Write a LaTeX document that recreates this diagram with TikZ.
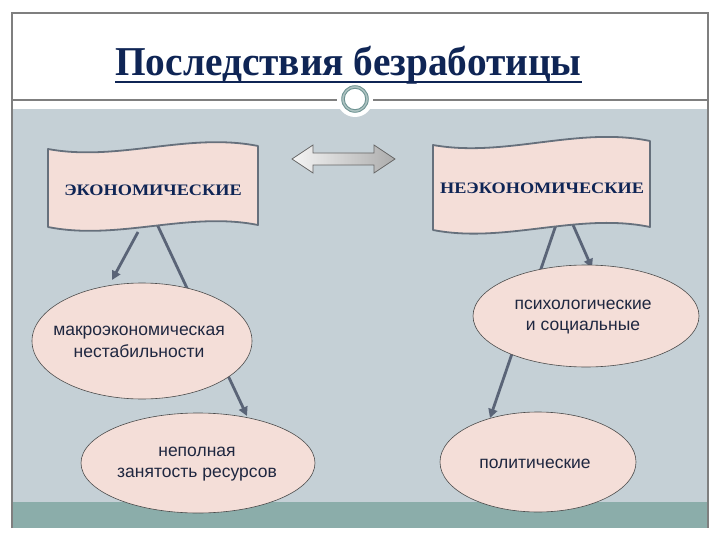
\documentclass[tikz,border=0pt]{standalone}
\usepackage{fontspec}
\setmainfont{Liberation Serif}
\newfontfamily\sansru{Liberation Sans}
\newfontfamily\bannerfont[FakeStretch=1.14]{Liberation Serif}
\newfontfamily\titlefont[FakeStretch=0.96]{Liberation Serif}
\usetikzlibrary{arrows.meta,shapes.geometric}
\definecolor{bggray}{HTML}{C5D0D6}
\definecolor{bandteal}{HTML}{8BADAA}
\definecolor{framegray}{HTML}{7F7F7F}
\definecolor{ringc}{HTML}{6E9392}
\definecolor{navy}{HTML}{0F2555}
\definecolor{pinkfill}{HTML}{F4DED8}
\definecolor{arrowc}{HTML}{5A6477}
\definecolor{bannerline}{HTML}{66707C}
\definecolor{elltext}{HTML}{1F2740}
\tikzset{
  bannerbox/.style={fill=pinkfill, draw=bannerline, line width=1.8pt, line join=round},
  bannertext/.style={text=navy, font=\bannerfont\bfseries\fontsize{16}{19}\selectfont},
  ellbox/.style={ellipse, fill=pinkfill, draw=black!70, line width=0.6pt, inner sep=0pt},
  elllabel/.style={align=center, text=elltext, font=\sansru\fontsize{17.5}{21.5}\selectfont, inner sep=0pt},
  conn/.style={arrowc, line width=2.8pt, -{Triangle[length=9pt,width=9pt]}},
  dblarrow/.style={draw=black!60, line width=0.8pt, left color=white!92!gray, right color=gray!65}
}
\begin{document}
\begin{tikzpicture}[x=1pt,y=-1pt]
\useasboundingbox (0,0) rectangle (720,540);
\fill[white] (0,0) rectangle (720,540);
\fill[bggray] (12,109) rectangle (708,502);
\fill[bandteal] (12,502) rectangle (708,528);
\draw[framegray, line width=1.2pt] (12,528) -- (12,13) -- (708,13) -- (708,528);
\draw[framegray, line width=1.2pt] (12,100) -- (708,100);
% ornament
\fill[white] (355,99) circle (18);
\draw[ringc!55, line width=2.6pt] (355,99) circle (12);
\draw[ringc, line width=0.9pt] (355,99) circle (13.3);
\draw[ringc, line width=0.9pt] (355,99) circle (10.7);
% title
\node[anchor=base, inner xsep=0pt, text=navy, font=\titlefont\bfseries\fontsize{41}{44}\selectfont] (title) at (348.5,76) {Последствия безработицы};
\draw[navy, line width=2.4pt] ([yshift=-6pt]title.base west) -- ([yshift=-6pt]title.base east);
% arrows (behind shapes)
\coordinate (a1s) at (138,232);
\coordinate (a1e) at (112,280);
\coordinate (a2s) at (156,222);
\coordinate (a2e) at (247,416);
\coordinate (a3s) at (557,222);
\coordinate (a3e) at (490,418);
\coordinate (a4s) at (570,218);
\coordinate (a4e) at (592,268);
\draw[conn] (a1s) -- (a1e);
\draw[conn] (a2s) -- (a2e);
\draw[conn] (a3s) -- (a3e);
\draw[conn] (a4s) -- (a4e);
% banners
\draw[bannerbox] (48,149) .. controls (118,162) and (188,132) .. (258,146) -- (258,225)
   .. controls (188,211) and (118,241) .. (48,227) -- cycle;
\draw[bannerbox] (433,145) .. controls (505,158) and (578,126) .. (650,141) -- (650,227)
   .. controls (578,212) and (505,244) .. (433,230) -- cycle;
\node[bannertext] (econ) at (153,190) {ЭКОНОМИЧЕСКИЕ};
\node[bannertext] (nonecon) at (542,188) {НЕЭКОНОМИЧЕСКИЕ};
% double arrow
\path[dblarrow] (292,159) -- (313,145) -- (313,153) -- (374,153) -- (374,145) -- (395,159)
   -- (374,173) -- (374,165) -- (313,165) -- (313,173) -- cycle;
% ellipses
\node[ellbox, minimum width=220pt, minimum height=116pt] (macro) at (142,341) {};
\node[ellbox, minimum width=234pt, minimum height=100pt] (partial) at (198,463) {};
\node[ellbox, minimum width=226pt, minimum height=102pt] (psych) at (586,316) {};
\node[ellbox, minimum width=196pt, minimum height=100pt] (polit) at (538,462) {};
\node[elllabel] (macrot) at (139,342) {макроэкономическая\\нестабильности};
\node[elllabel] (partialt) at (197,464) {неполная\\занятость ресурсов};
\node[elllabel] (psycht) at (583,317) {психологические\\и социальные};
\node[elllabel] (politt) at (535,464) {политические};
\end{tikzpicture}
\end{document}
